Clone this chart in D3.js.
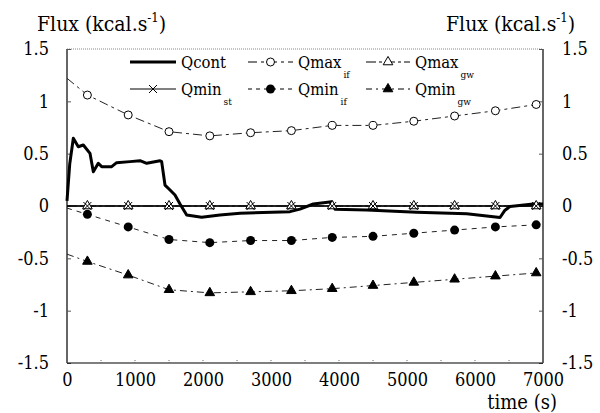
<!DOCTYPE html>
<html>
<head>
<meta charset="utf-8">
<script src="https://cdn.jsdelivr.net/npm/d3@7"></script>
<style>
  body { margin: 0; background: #fff; }
  svg text { fill: #000; font-stretch: condensed; }
</style>
</head>
<body>
<div id="chart"></div>
<script>
// time of the sampled points (s); markers are drawn from 300 on
const time = [0, 300, 900, 1500, 2100, 2700, 3300, 3900, 4500, 5100, 5700, 6300, 6900];
const qmaxIf = [1.22, 1.06, 0.87, 0.71, 0.67, 0.70, 0.72, 0.77, 0.77, 0.81, 0.86, 0.91, 0.97];
const qmaxGw = [0, 0, 0, 0, 0, 0, 0, 0, 0, 0, 0, 0, 0];
const qminSt = [0, 0, 0, 0, 0, 0, 0, 0, 0, 0, 0, 0, 0];
const qminIf = [-0.02, -0.08, -0.20, -0.32, -0.35, -0.33, -0.33, -0.30, -0.29, -0.26, -0.23, -0.20, -0.18];
const qminGw = [-0.46, -0.53, -0.66, -0.80, -0.83, -0.82, -0.81, -0.79, -0.76, -0.73, -0.70, -0.67, -0.64];

// Qcont is a continuous trace
const contTime = [0, 40, 93, 166, 240, 338, 387, 460, 510, 657, 730, 926, 1074, 1172, 1368, 1392, 1441, 1515, 1588, 1662,
  1760, 1980, 2250, 2544, 3279, 3426, 3622, 3892, 3941, 4407, 5142, 5878, 6368, 6441, 6515, 6858, 7000];
const contVal = [0.05, 0.40, 0.647, 0.566, 0.583, 0.503, 0.328, 0.408, 0.376, 0.376, 0.414, 0.424, 0.433, 0.408, 0.433, 0.424, 0.20, 0.153, 0.105, 0.02,
  -0.086, -0.108, -0.086, -0.07, -0.054, -0.03, 0.019, 0.041, -0.03, -0.038, -0.06, -0.075, -0.11, -0.04, -0.005, 0.019, 0.02];

const xTicks = [0, 1000, 2000, 3000, 4000, 5000, 6000, 7000];
const xMinorTicks = d3.range(0, 7001, 500);
const yTicks = [-1.5, -1, -0.5, 0, 0.5, 1, 1.5];

const width = 600, height = 413;
const margin = { top: 49, right: 57, bottom: 50, left: 67 };
const serif = '"DejaVu Serif Condensed", "DejaVu Serif", serif';

const svg = d3.select('#chart').append('svg')
  .attr('width', width)
  .attr('height', height)
  .attr('font-family', serif);

const x = d3.scaleLinear().domain([0, 7000]).range([margin.left, width - margin.right]);
const y = d3.scaleLinear().domain([-1.5, 1.5]).range([height - margin.bottom, margin.top]);

const fmt = d => String(d).replace('\u2212', '-');

// frame: dotted top, solid other sides
svg.append('line')
  .attr('x1', x(0)).attr('x2', x(7000)).attr('y1', y(1.5)).attr('y2', y(1.5))
  .attr('stroke', '#888').attr('stroke-dasharray', '1,1');

// left axis
const left = svg.append('g')
  .attr('transform', 'translate(' + x(0) + ',0)')
  .call(d3.axisLeft(y).tickValues(yTicks).tickSize(-4).tickPadding(18).tickFormat(fmt));
// right axis
const right = svg.append('g')
  .attr('transform', 'translate(' + x(7000) + ',0)')
  .call(d3.axisRight(y).tickValues(yTicks).tickSize(-4).tickPadding(19).tickFormat(fmt));
// bottom axis
const bottom = svg.append('g')
  .attr('transform', 'translate(0,' + y(-1.5) + ')')
  .call(d3.axisBottom(x).tickValues(xTicks).tickSize(0).tickPadding(10).tickFormat(d => d));

svg.append('g')
  .selectAll('line')
  .data(xMinorTicks)
  .enter().append('line')
  .attr('x1', d => x(d)).attr('x2', d => x(d))
  .attr('y1', y(-1.5)).attr('y2', y(-1.5) - 4)
  .attr('stroke', '#666').attr('stroke-dasharray', '1,1');

[left, right, bottom].forEach(g => {
  g.attr('font-family', serif);
  g.select('.domain').attr('stroke', '#000').attr('stroke-width', 1.2);
  g.selectAll('.tick line').attr('stroke', '#555');
  g.selectAll('.tick text').attr('font-size', 18).attr('font-family', serif);
});
right.selectAll('.tick text').attr('text-anchor', 'start').attr('x', 19);
left.select('.domain').attr('d', 'M0,' + y(1.5) + 'V' + y(-1.5));
right.select('.domain').attr('d', 'M0,' + y(1.5) + 'V' + y(-1.5));
bottom.select('.domain').attr('d', 'M' + x(0) + ',0H' + x(7000));

// axis titles
function fluxTitle(xPos) {
  const t = svg.append('text')
    .attr('x', xPos).attr('y', 31)
    .attr('font-size', 21);
  t.append('tspan').text('Flux (kcal.s');
  t.append('tspan').text('-1').attr('font-size', 13).attr('dy', -9);
  t.append('tspan').text(')').attr('dy', 9);
}
fluxTitle(37);
fluxTitle(446);

svg.append('text')
  .attr('x', 557).attr('y', 409)
  .attr('text-anchor', 'end')
  .attr('font-size', 20)
  .text('time (s)');

// series
const line = d3.line().x(d => x(d[0])).y(d => y(d[1]));
const pts = vals => time.map((t, i) => [t, vals[i]]);

const series = [
  { name: 'Qmax', sub: 'if', vals: qmaxIf, dash: '9,4,3,4', marker: 'circleOpen' },
  { name: 'Qmax', sub: 'gw', vals: qmaxGw, dash: '10,3,3,3', marker: 'triOpen' },
  { name: 'Qmin', sub: 'st', vals: qminSt, dash: null, marker: 'cross' },
  { name: 'Qmin', sub: 'if', vals: qminIf, dash: '5,5', marker: 'circleFill' },
  { name: 'Qmin', sub: 'gw', vals: qminGw, dash: '7,4,2,4', marker: 'triFill' }
];

function drawMarker(g, type, cx, cy) {
  if (type === 'circleOpen') {
    g.append('circle').attr('cx', cx).attr('cy', cy).attr('r', 4)
      .attr('fill', '#fff').attr('stroke', '#000').attr('stroke-width', 1);
  } else if (type === 'circleFill') {
    g.append('circle').attr('cx', cx).attr('cy', cy).attr('r', 4.5).attr('fill', '#000');
  } else if (type === 'triOpen' || type === 'triFill') {
    g.append('path')
      .attr('d', d3.symbol(d3.symbolTriangle, 40)())
      .attr('transform', 'translate(' + cx + ',' + cy + ')')
      .attr('fill', type === 'triFill' ? '#000' : '#fff')
      .attr('stroke', '#000').attr('stroke-width', 1);
  } else if (type === 'cross') {
    g.append('path')
      .attr('d', 'M-4,-4L4,4M-4,4L4,-4')
      .attr('transform', 'translate(' + cx + ',' + cy + ')')
      .attr('stroke', '#000').attr('stroke-width', 1).attr('fill', 'none');
  }
}

const plot = svg.append('g');
series.forEach(s => {
  plot.append('path')
    .datum(pts(s.vals))
    .attr('d', line)
    .attr('fill', 'none')
    .attr('stroke', '#222')
    .attr('stroke-width', 1)
    .attr('stroke-dasharray', s.dash);
});

// zero line spans full width
plot.append('line')
  .attr('x1', x(0)).attr('x2', x(7000)).attr('y1', y(0)).attr('y2', y(0))
  .attr('stroke', '#000').attr('stroke-width', 1.3);

// Qcont
plot.append('path')
  .datum(contTime.map((t, i) => [t, contVal[i]]))
  .attr('d', line)
  .attr('fill', 'none')
  .attr('stroke', '#000')
  .attr('stroke-width', 3)
  .attr('stroke-linejoin', 'round');

series.forEach(s => {
  time.forEach((t, i) => {
    if (i === 0) return;
    drawMarker(plot, s.marker, x(t), y(s.vals[i]));
  });
});

// legend
const legendItems = [
  { name: 'Qcont', sub: '', dash: null, marker: null, thick: true, row: 0, col: 0 },
  { name: 'Qmax', sub: 'if', dash: '9,4,3,4', marker: 'circleOpen', row: 0, col: 1 },
  { name: 'Qmax', sub: 'gw', dash: '10,3,3,3', marker: 'triOpen', row: 0, col: 2 },
  { name: 'Qmin', sub: 'st', dash: null, marker: 'cross', row: 1, col: 0 },
  { name: 'Qmin', sub: 'if', dash: '4,4', marker: 'circleFill', row: 1, col: 1 },
  { name: 'Qmin', sub: 'gw', dash: '6,4,2,4', marker: 'triFill', row: 1, col: 2 }
];
const rowY = [62, 89];
const colX = [[130, 176, 181], [248, 293, 298], [366, 410, 415]];

const legend = svg.append('g');
legendItems.forEach(d => {
  const c = colX[d.col], yy = rowY[d.row];
  legend.append('line')
    .attr('x1', c[0]).attr('x2', c[1]).attr('y1', yy).attr('y2', yy)
    .attr('stroke', '#000')
    .attr('stroke-width', d.thick ? 3 : 1)
    .attr('stroke-dasharray', d.dash);
  if (d.marker) drawMarker(legend, d.marker, (c[0] + c[1]) / 2, yy);
  const t = legend.append('text')
    .attr('x', c[2]).attr('y', yy + 6)
    .attr('font-size', 16.5);
  t.append('tspan').text(d.name);
  if (d.sub) t.append('tspan').text(d.sub).attr('font-size', 10).attr('dx', 2).attr('dy', 10);
});
</script>
</body>
</html>
